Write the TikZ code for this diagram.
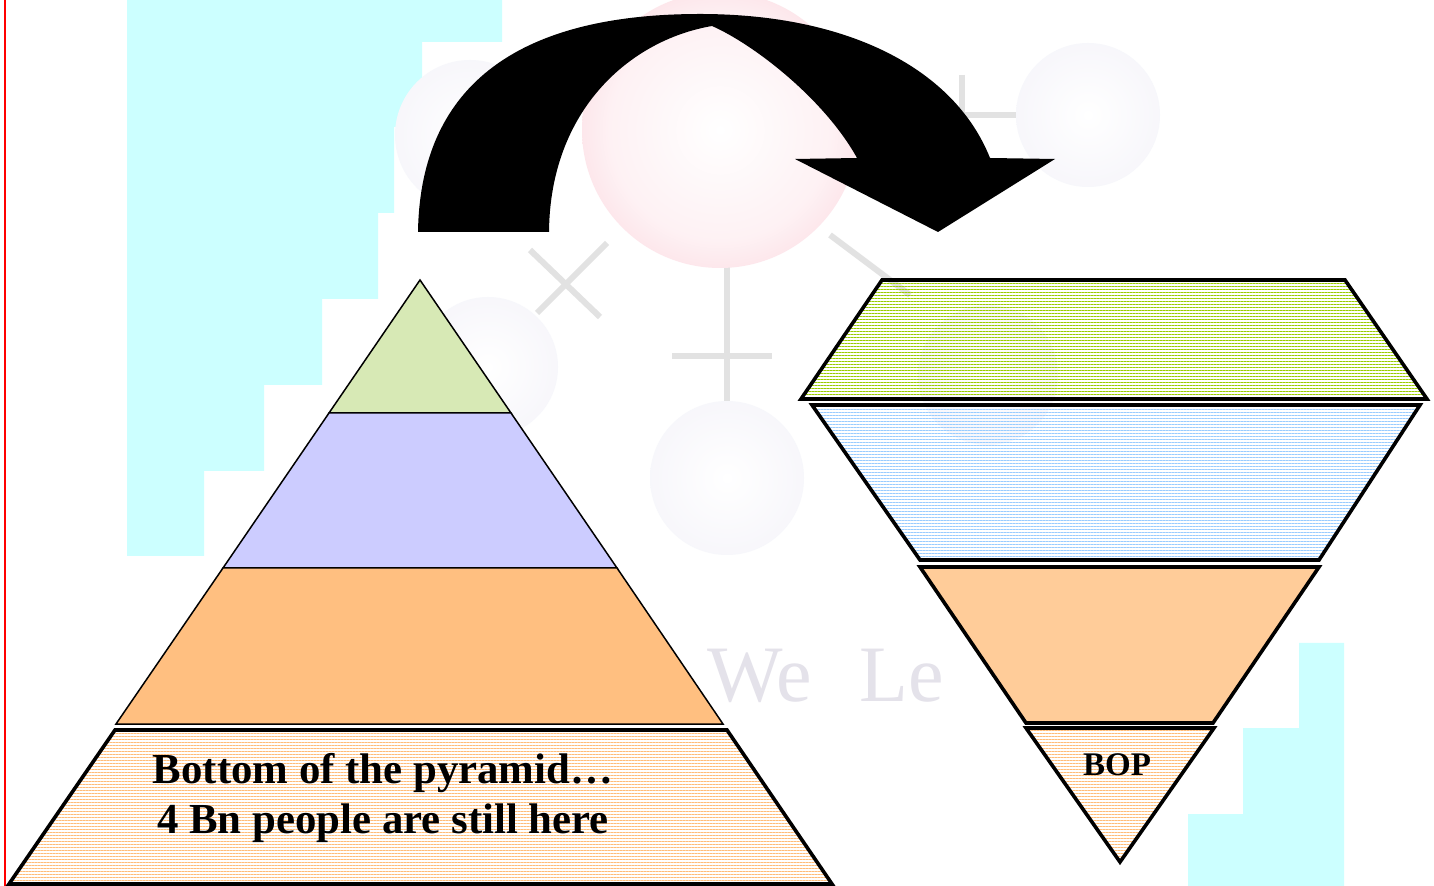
\documentclass[tikz,border=0pt]{standalone}
\usepackage{fontspec}
\setmainfont{Liberation Serif}
\usepackage{xcolor}
\usepackage{tikz}
\usetikzlibrary{patterns.meta, positioning, calc}

\definecolor{wmcyan}{RGB}{204,255,255}
\definecolor{wmlav}{RGB}{212,208,232}
\definecolor{wmpink}{RGB}{250,200,210}
\definecolor{wmgray}{RGB}{226,226,226}
\definecolor{wmtextgray}{RGB}{228,226,234}
\definecolor{topgreen}{RGB}{215,233,181}
\definecolor{midlav}{RGB}{204,204,255}
\definecolor{lowpeach}{RGB}{255,191,128}
\definecolor{revpeach}{RGB}{255,204,153}
\definecolor{hatchpeach}{RGB}{255,188,120}
\definecolor{hatchgreen}{RGB}{153,204,0}
\definecolor{hatchblue}{RGB}{153,204,255}

\pgfdeclareradialshading{ringlav}{\pgfpoint{0bp}{0bp}}{color(0bp)=(white); color(28bp)=(white!80!wmlav); color(43bp)=(wmlav); color(50bp)=(wmlav!40!white)}
\pgfdeclareradialshading{ringpink}{\pgfpoint{0bp}{0bp}}{color(0bp)=(white); color(20bp)=(white!75!wmpink); color(40bp)=(wmpink); color(50bp)=(wmpink!70!white)}

\begin{document}
\begin{tikzpicture}[
    x=0.5pt, y=-0.5pt,
    thintier/.style={draw=black, line width=0.75pt},
    boldtier/.style={draw=black, line width=1.8pt},
    hatched/.style={pattern={Lines[angle=0, distance=1.5pt, line width=0.45pt]}, pattern color=#1},
    wmbond/.style={draw=wmgray, line width=3pt},
    tierlabel/.style={font=\bfseries\fontsize{21.4}{25}\selectfont, align=center}
]
\useasboundingbox (0,0) rectangle (1434,886);
\fill[white] (0,0) rectangle (1434,886);

% background
\fill[wmcyan] (127,0) -- (502,0) -- (502,42) -- (422,42) -- (422,127) -- (394,127) -- (394,213)
    -- (378,213) -- (378,299) -- (322,299) -- (322,385) -- (264,385) -- (264,471)
    -- (204,471) -- (204,556) -- (127,556) -- cycle;
\fill[wmcyan] (1299,643) -- (1344,643) -- (1344,886) -- (1188,886) -- (1188,814)
    -- (1243,814) -- (1243,728) -- (1299,728) -- cycle;
\draw[red, line width=0.8pt] (5,0) -- (5,886);

% watermark molecule
\draw[wmbond] (727,260) -- (727,405);
\draw[wmbond] (672,356) -- (772,356);
\draw[wmbond] (607,243) -- (537,313);
\draw[wmbond] (530,250) -- (600,317);
\draw[wmbond] (830,235) -- (910,295);
\draw[wmbond] (850,115) -- (1016,115);
\draw[wmbond] (962,75) -- (962,150);
\shade[shading=ringpink] (720,130) circle[radius=138];
\foreach \cx/\cy/\r in {488/367/70, 727/478/77, 988/375/70, 1088/115/72, 470/135/75} {
    \shade[shading=ringlav] (\cx,\cy) circle[radius=\r];
}
\node[text=wmtextgray, font=\fontsize{40}{40}\selectfont, anchor=base west] (wmtext) at (700,702) {We\hspace{0.6em}Le};

% curved arrow
\fill[black] (418,232) -- (549,232)
    .. controls (550,110) and (630,40) .. (712,26)
    .. controls (755,45) and (825,100) .. (857,158)
    -- (795,159) -- (938,232) -- (1055,159) -- (990,158)
    .. controls (955,70) and (850,14) .. (700,14)
    .. controls (500,14) and (420,100) .. (418,232) -- cycle;

% pyramid
\filldraw[thintier, fill=topgreen] (420,280) -- (511,413) -- (329,413) -- cycle;
\filldraw[thintier, fill=midlav] (329,413) -- (511,413) -- (617,568) -- (223,568) -- cycle;
\filldraw[thintier, fill=lowpeach] (223,568) -- (617,568) -- (723,724) -- (116,724) -- cycle;
\draw[boldtier, hatched=hatchpeach] (115,730) -- (727,730) -- (832,884) -- (9,884) -- cycle;
\node[tierlabel] (bottomtxt) at (383,798) {Bottom of the pyramid…\\ 4 Bn people are still here};

% inverted pyramid
\draw[boldtier, hatched=hatchgreen] (882,280) -- (1345,280) -- (1427,399) -- (801,399) -- cycle;
\draw[boldtier, hatched=hatchblue] (812,405) -- (1420,405) -- (1319,560) -- (920,560) -- cycle;
\filldraw[boldtier, fill=revpeach] (920,567) -- (1319,567) -- (1213,723) -- (1026,723) -- cycle;
\draw[boldtier, hatched=hatchpeach] (1026,728) -- (1214,728) -- (1120,862) -- cycle;
\node[font=\bfseries\fontsize{16.5}{20}\selectfont] (boptxt) at (1117,765) {BOP};

\end{tikzpicture}
\end{document}
